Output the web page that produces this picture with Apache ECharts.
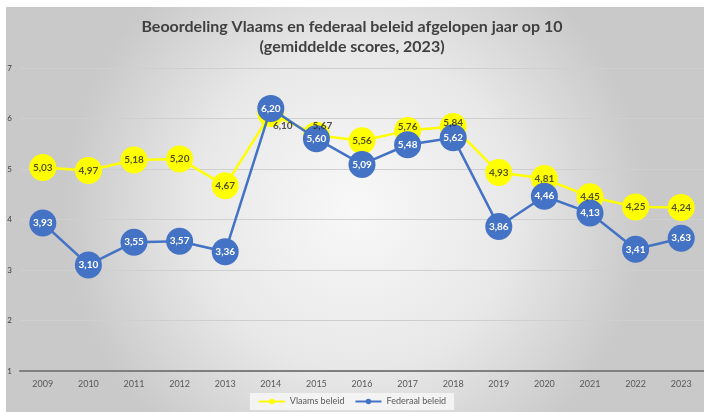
<!DOCTYPE html>
<html>
<head>
<meta charset="utf-8">
<script src="https://cdn.jsdelivr.net/npm/echarts@6/dist/echarts.min.js"></script>
<style>
  html, body { margin: 0; padding: 0; background: #fff; }
  #chart { width: 704px; height: 412px; }
</style>
</head>
<body>
<div id="chart"></div>
<script>
// jaren en gemiddelde scores
const years = ['2009', '2010', '2011', '2012', '2013', '2014', '2015', '2016', '2017', '2018', '2019', '2020', '2021', '2022', '2023']
const vlaams = [5.03, 4.97, 5.18, 5.20, 4.67, 6.10, 5.67, 5.56, 5.76, 5.84, 4.93, 4.81, 4.45, 4.25, 4.24]
const federaal = [3.93, 3.10, 3.55, 3.57, 3.36, 6.20, 5.60, 5.09, 5.48, 5.62, 3.86, 4.46, 4.13, 3.41, 3.63]

const fmt = p => p.value.toFixed(2).replace('.', ',')

// yellow labels are drawn by a separate series so they stay above the blue dots
const labelOffsets = { 5: [12, 12], 6: [6, -9], 8: [0, -4], 9: [0, -4] }
const vlaamsLabels = vlaams.map((v, i) => {
  let item = { value: v }
  if (labelOffsets[i]) item.label = { show: true, offset: labelOffsets[i] }
  return item
})

let chart = echarts.init(document.getElementById('chart'))
let option = {
  backgroundColor: '#fff',
  graphic: [{
    type: 'rect',
    z: -10,
    shape: { x: 6, y: 7, width: 698, height: 405 },
    style: {
      fill: new echarts.graphic.RadialGradient(0.5, 0.5, 0.72, [
        { offset: 0, color: '#f8f8f8' },
        { offset: 0.55, color: '#e8e8e8' },
        { offset: 1, color: '#c9c9c9' }
      ])
    }
  }],
  title: {
    text: 'Beoordeling Vlaams en federaal beleid afgelopen jaar op 10\n(gemiddelde scores, 2023)',
    left: 'center',
    top: 12,
    padding: [5, 5, 5, 25],
    textStyle: {
      fontFamily: 'Lato',
      fontSize: 16,
      fontWeight: 'bold',
      color: '#404040',
      lineHeight: 20
    }
  },
  legend: {
    bottom: 2,
    left: 'center',
    itemWidth: 26,
    itemHeight: 7,
    itemGap: 10,
    padding: [4, 8],
    backgroundColor: 'rgba(245,245,245,0.9)',
    textStyle: { fontFamily: 'Lato', fontSize: 9, color: '#595959' },
    data: ['Vlaams beleid', 'Federaal beleid']
  },
  grid: { left: 20, right: 0, top: 68, bottom: 41 },
  xAxis: {
    type: 'category',
    data: years,
    axisLine: { lineStyle: { color: '#7f7f7f', width: 2 } },
    axisTick: { show: false },
    axisLabel: { fontFamily: 'Lato', fontSize: 9, color: '#595959', margin: 9 }
  },
  yAxis: {
    type: 'value',
    min: 1,
    max: 7,
    interval: 1,
    axisLine: { show: false },
    axisTick: { show: false },
    axisLabel: { fontFamily: 'Lato', fontSize: 8, color: '#404040', margin: 8 },
    splitLine: { lineStyle: { color: '#cfcfcf', width: 1 } }
  },
  series: [
    {
      name: 'Vlaams beleid',
      type: 'line',
      data: vlaams,
      symbol: 'circle',
      symbolSize: 27,
      color: '#ffff00',
      lineStyle: { width: 2.5, color: '#ffff00' },
      itemStyle: { color: '#ffff00' },
      label: { show: false },
      z: 2
    },
    {
      name: 'Federaal beleid',
      type: 'line',
      data: federaal,
      symbol: 'circle',
      symbolSize: 27,
      color: '#4472c4',
      lineStyle: { width: 2.5, color: '#4472c4' },
      itemStyle: { color: '#4472c4' },
      label: {
        show: true,
        position: 'inside',
        formatter: fmt,
        fontFamily: 'Lato',
        fontSize: 10,
        fontWeight: 'bold',
        color: '#ffffff'
      },
      z: 3
    },
    {
      name: 'Vlaams labels',
      type: 'scatter',
      data: vlaamsLabels,
      symbolSize: 2,
      itemStyle: { color: 'rgba(0,0,0,0)' },
      silent: true,
      label: {
        show: true,
        position: 'inside',
        formatter: fmt,
        fontFamily: 'Lato',
        fontSize: 10,
        fontWeight: 'bold',
        color: '#262626'
      },
      z: 4
    }
  ]
}
chart.setOption(option)
</script>
</body>
</html>
